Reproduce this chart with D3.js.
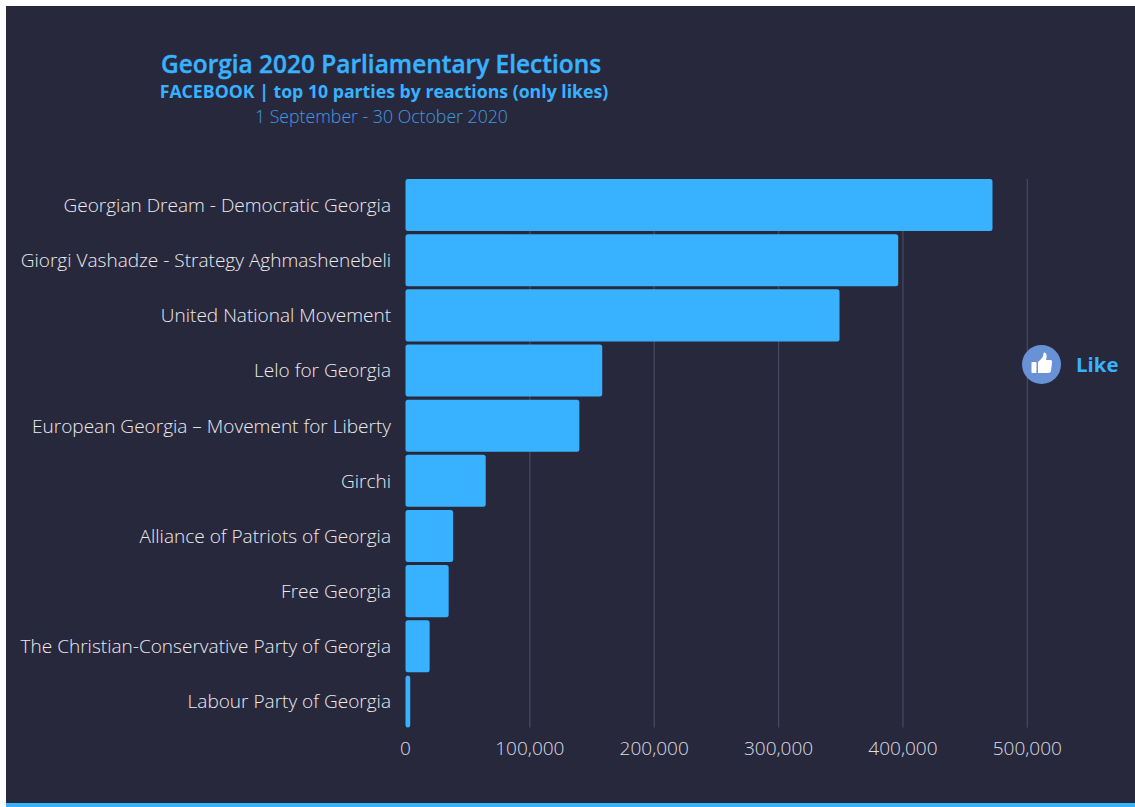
<!DOCTYPE html>
<html>
<head>
<meta charset="utf-8">
<script src="https://cdn.jsdelivr.net/npm/d3@7"></script>
<style>
  html, body { margin: 0; padding: 0; background: #fff; }
  svg { display: block; font-family: "Open Sans", sans-serif; }
</style>
</head>
<body>
<svg id="chart" width="1135" height="807"></svg>
<script>
// Facebook likes per party, September-October 2020
const parties = [
  "Georgian Dream - Democratic Georgia",
  "Giorgi Vashadze - Strategy Aghmashenebeli",
  "United National Movement",
  "Lelo for Georgia",
  "European Georgia – Movement for Liberty",
  "Girchi",
  "Alliance of Patriots of Georgia",
  "Free Georgia",
  "The Christian-Conservative Party of Georgia",
  "Labour Party of Georgia"
];
const likes = [472000, 396200, 349000, 158200, 139800, 64500, 38300, 34700, 19400, 3800];
const tickValues = [0, 100000, 200000, 300000, 400000, 500000];
const titleLines = [
  "Georgia 2020 Parliamentary Elections",
  "FACEBOOK | top 10 parties by reactions (only likes)",
  "1 September - 30 October 2020"
];
const legendLabel = "Like";

const BLUE = "#38b2ff";
const svg = d3.select("#chart");

// Page panel and the accent strip along its bottom edge
svg.append("rect").attr("x", 6).attr("y", 6).attr("width", 1129).attr("height", 801).attr("fill", "#28283d");
svg.append("rect").attr("x", 6).attr("y", 803).attr("width", 1129).attr("height", 4).attr("fill", BLUE);

const x = d3.scaleLinear().domain([0, 500000]).range([405.5, 1027.3]);
const y = d3.scaleBand().domain(parties).range([179, 727.5]).paddingInner(0.056);

// Vertical grid lines
svg.append("g").selectAll("line")
  .data(tickValues.slice(1))
  .join("line")
  .attr("x1", d => x(d)).attr("x2", d => x(d))
  .attr("y1", 179).attr("y2", 727.5)
  .attr("stroke", "#46465d").attr("stroke-width", 1.3);

// Bars with softly rounded corners
svg.append("g").selectAll("rect")
  .data(parties)
  .join("rect")
  .attr("x", x(0))
  .attr("y", p => y(p))
  .attr("width", (p, i) => x(likes[i]) - x(0))
  .attr("height", y.bandwidth())
  .attr("rx", 2.5)
  .attr("fill", BLUE);

// Party names
svg.append("g").selectAll("text")
  .data(parties)
  .join("text")
  .attr("x", 391)
  .attr("y", p => y(p) + y.bandwidth() / 2 + 6.9)
  .attr("text-anchor", "end")
  .attr("font-size", 19.05)
  .attr("font-weight", 300)
  .attr("fill", "#ebebef")
  .text(p => p);

// Value axis labels
svg.append("g").selectAll("text")
  .data(tickValues)
  .join("text")
  .attr("x", d => x(d))
  .attr("y", 755.3)
  .attr("text-anchor", "middle")
  .attr("font-size", 19.05)
  .attr("font-weight", 300)
  .attr("fill", "#dedee3")
  .text(d3.format(","));

// Heading block
const titleStyles = [
  { y: 72.5, size: 24.45, weight: 600, fill: BLUE, cx: 381, stroke: 0.4 },
  { y: 97.5, size: 17.7, weight: 700, fill: BLUE, cx: 384, stroke: 0 },
  { y: 122.5, size: 17.7, weight: 300, fill: "#3f9be0", cx: 381.5, stroke: 0 }
];
svg.append("g").selectAll("text")
  .data(titleLines)
  .join("text")
  .attr("x", (d, i) => titleStyles[i].cx)
  .attr("y", (d, i) => titleStyles[i].y)
  .attr("text-anchor", "middle")
  .attr("font-size", (d, i) => titleStyles[i].size)
  .attr("font-weight", (d, i) => titleStyles[i].weight)
  .attr("fill", (d, i) => titleStyles[i].fill)
  .attr("stroke", (d, i) => titleStyles[i].fill)
  .attr("stroke-width", (d, i) => titleStyles[i].stroke)
  .text(d => d);

// Reaction legend: thumbs-up badge and its label
const badge = svg.append("g").attr("transform", "translate(1041.5,364.5)");
badge.append("circle").attr("r", 19.5).attr("fill", "#6891d6");
badge.append("rect").attr("x", -10).attr("y", -2.5).attr("width", 5).attr("height", 11).attr("rx", 0.8).attr("fill", "#fff");
badge.append("path")
  .attr("d", "M-3.5,-2.5L0.5,-6.5Q2,-8.5 2,-11Q2.3,-12.5 4,-11.5Q6,-10 4.5,-4.5L9,-4.5Q11,-4.5 10.5,-2L9.5,6.5Q9,8.5 7,8.5L-3.5,8.5Z")
  .attr("fill", "#fff");
svg.append("text")
  .attr("x", 1076).attr("y", 371.5)
  .attr("font-size", 20.4).attr("font-weight", 700)
  .attr("fill", BLUE)
  .text(legendLabel);
</script>
</body>
</html>
